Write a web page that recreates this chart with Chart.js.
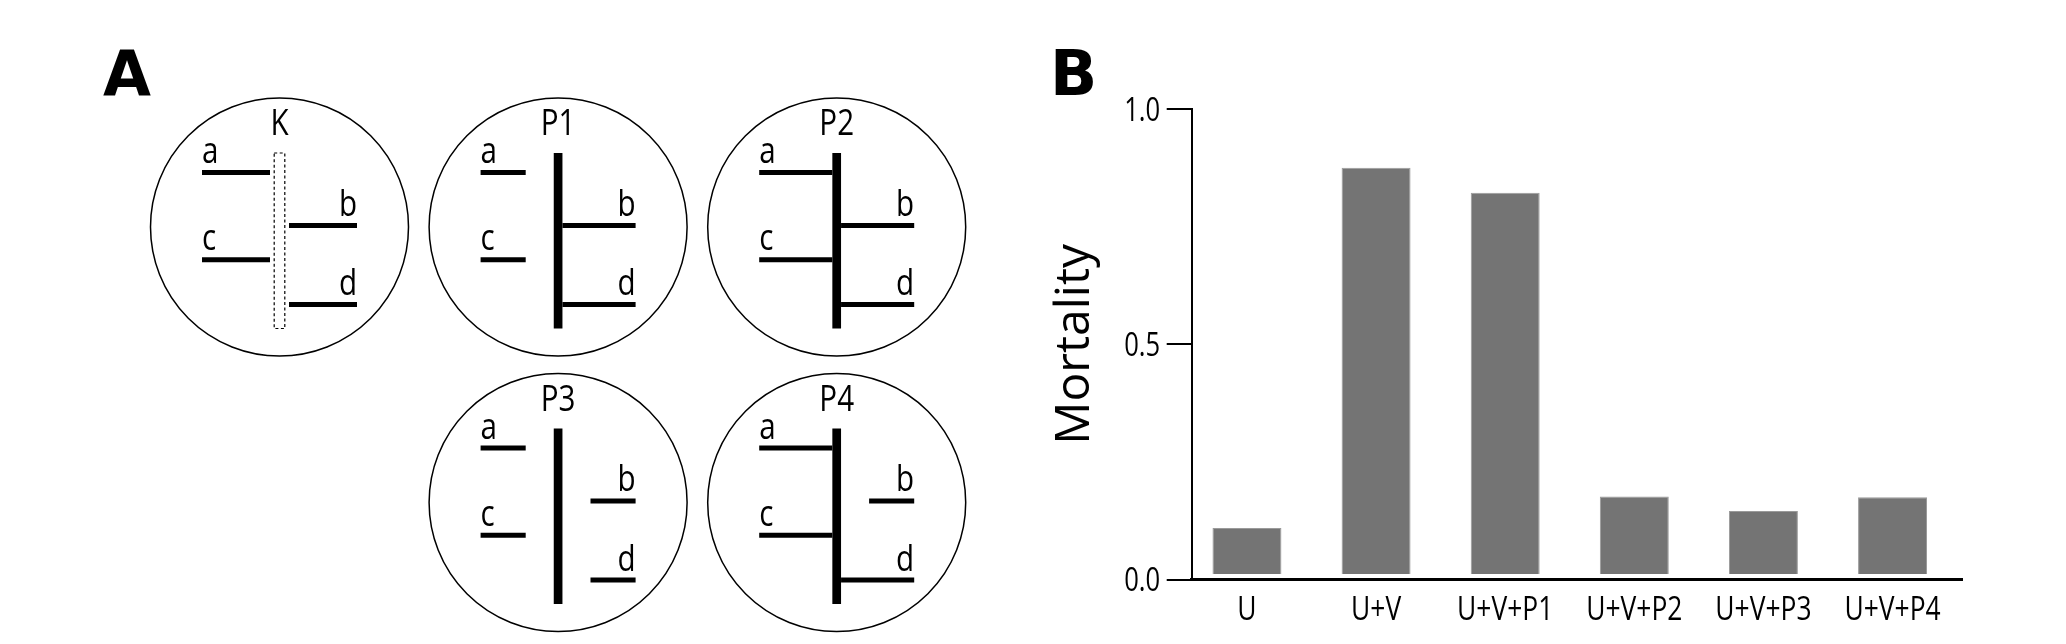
<!DOCTYPE html>
<html><head><meta charset="utf-8">
<script src="https://cdn.jsdelivr.net/npm/chart.js@4.4.1/dist/chart.umd.min.js"></script>
<style>
html,body{margin:0;padding:0;background:#fff;}
#wrap{position:relative;width:2066px;height:644px;overflow:hidden;}
#cA{position:absolute;left:0;top:0;}
#cB{position:absolute;left:1033px;top:0;}
</style></head><body>
<div id="wrap"><canvas id="cA" width="1033" height="644"></canvas><canvas id="cB" width="1033" height="644"></canvas></div>
<script>
// ---------- Panel B data ----------
const categories = ['U', 'U+V', 'U+V+P1', 'U+V+P2', 'U+V+P3', 'U+V+P4'];
const mortality = [0.11, 0.875, 0.822, 0.177, 0.146, 0.175];
const yTickValues = [0, 0.5, 1.0];
const yTickLabels = ['0.0', '0.5', '1.0'];
const yAxisTitle = 'Mortality';

// ---------- Panel A diagram data ----------
const panels = ['K', 'P1', 'P2', 'P3', 'P4'];
const panelCol = [0, 1, 2, 1, 2];
const panelRow = [0, 0, 0, 1, 1];
const barDashed = [true, false, false, false, false];
const branchNames = ['a', 'b', 'c', 'd'];
const joinedA = [1, 0, 1, 0, 1];
const joinedB = [1, 1, 1, 0, 0];
const joinedC = [1, 0, 1, 0, 1];
const joinedD = [1, 1, 1, 0, 1];

// ---------- layout / style ----------
const G = {x0: 279.5, dx: 278.6, y0: 227, dy: 275.5, r: 129, barHalf: 4.35, barTop: -74, barBot: 101.5,
  outer: 77.5, shortInner: 32.4, lw: 5, dashHalf: 5.3, dashGap: 4.2, titleDy: -92};
const branchDy = {a: -54.5, b: -1.5, c: 32.7, d: 77.5};
const branchSide = {a: -1, b: 1, c: -1, d: 1};
const labelDy = {a: -64, b: -11.5, c: 23.2, d: 68};
const joined = {a: joinedA, b: joinedB, c: joinedC, d: joinedD};
const SX = 0.8;

function drawText(ctx, text, x, y, font, align, sx) {
  ctx.save();
  ctx.font = font;
  ctx.fillStyle = '#000';
  ctx.textAlign = 'left';
  ctx.textBaseline = 'alphabetic';
  const w = ctx.measureText(text).width * sx;
  let x0 = x;
  if (align === 'center') x0 = x - w / 2;
  else if (align === 'right') x0 = x - w;
  ctx.translate(x0, y);
  ctx.scale(sx, 1);
  ctx.fillText(text, 0, 0);
  ctx.restore();
}

// ---------- Panel A (diagram) ----------
const seg = (pts, extra) => Object.assign({
  data: pts, showLine: true, pointRadius: 0, borderColor: '#000', borderWidth: G.lw,
  borderCapStyle: 'butt', fill: false, clip: false
}, extra || {});

const dsA = [];
const centers = panels.map((p, i) => ({x: G.x0 + panelCol[i] * G.dx, y: G.y0 + panelRow[i] * G.dy}));
dsA.push({data: centers, pointRadius: G.r, pointHoverRadius: G.r, pointBorderWidth: 1.5,
  pointBorderColor: '#000', pointBackgroundColor: 'rgba(0,0,0,0)', showLine: false, clip: false});
panels.forEach((p, i) => {
  const c = centers[i];
  if (barDashed[i]) {
    const h = G.dashHalf;
    dsA.push(seg([{x: c.x - h, y: c.y + G.barTop}, {x: c.x + h, y: c.y + G.barTop},
      {x: c.x + h, y: c.y + G.barBot}, {x: c.x - h, y: c.y + G.barBot}, {x: c.x - h, y: c.y + G.barTop}],
      {borderWidth: 1.2, borderDash: [3, 2.5]}));
  } else {
    dsA.push(seg([{x: c.x, y: c.y + G.barTop}, {x: c.x, y: c.y + G.barBot}], {borderWidth: G.barHalf * 2}));
  }
  branchNames.forEach(b => {
    const s = branchSide[b];
    const inner = joined[b][i] ? (barDashed[i] ? G.dashHalf + G.dashGap : G.barHalf) : G.shortInner;
    const y = c.y + branchDy[b];
    dsA.push(seg([{x: c.x + s * inner, y: y}, {x: c.x + s * G.outer, y: y}]));
  });
});

const labelsA = {
  id: 'labelsA',
  afterDatasetsDraw(chart) {
    const ctx = chart.ctx, xs = chart.scales.x, ys = chart.scales.y;
    const f = '37px "Open Sans"';
    panels.forEach((p, i) => {
      const cx = xs.getPixelForValue(centers[i].x), cy = ys.getPixelForValue(centers[i].y);
      drawText(ctx, p, cx, cy + G.titleDy, f, 'center', SX);
      branchNames.forEach(b => {
        const s = branchSide[b];
        drawText(ctx, b, cx + s * G.outer, cy + labelDy[b], f, s < 0 ? 'left' : 'right', SX);
      });
    });
    drawText(ctx, 'A', 103, 95, 'bold 62px "DejaVu Sans"', 'left', 1);
  }
};

new Chart(document.getElementById('cA'), {
  type: 'scatter',
  data: {datasets: dsA},
  options: {
    responsive: false, animation: false, events: [],
    layout: {padding: 0, autoPadding: false},
    plugins: {legend: {display: false}, tooltip: {enabled: false}},
    scales: {
      x: {type: 'linear', display: false, min: 0, max: 1033, offset: false},
      y: {type: 'linear', display: false, min: 0, max: 644, reverse: true, offset: false}
    }
  },
  plugins: [labelsA]
});

// ---------- Panel B (bar chart) ----------
const labelsB = {
  id: 'labelsB',
  afterDraw(chart) {
    const ctx = chart.ctx, xs = chart.scales.x, ys = chart.scales.y;
    yTickValues.forEach((v, i) => {
      drawText(ctx, yTickLabels[i], ys.right - 25 - 6.5, ys.getPixelForValue(v) + 11.5, '32px "Open Sans"', 'right', SX);
    });
    categories.forEach((c, i) => {
      drawText(ctx, c, xs.getPixelForValue(i), chart.chartArea.bottom + 40.3, '33px "Open Sans"', 'center', SX);
    });
    drawText(ctx, 'B', 17, 95, 'bold 62px "DejaVu Sans"', 'left', 1);
  }
};

new Chart(document.getElementById('cB'), {
  type: 'bar',
  data: {
    datasets: [{
      data: categories.map((c, i) => ({x: i, y: mortality[i]})),
      backgroundColor: '#747474', borderColor: '#9a9a9a', borderWidth: 1,
      base: 0.012, barPercentage: 0.534, categoryPercentage: 1
    }]
  },
  options: {
    responsive: false, animation: false, events: [],
    layout: {padding: {left: 0, right: 104, top: 109, bottom: 0}, autoPadding: false},
    plugins: {legend: {display: false}, tooltip: {enabled: false}},
    scales: {
      x: {
        type: 'linear', min: -0.428, max: 5.538, offset: false,
        afterBuildTicks: s => { s.ticks = categories.map((c, i) => ({value: i})); },
        afterFit: s => { s.height = 64.3; },
        ticks: {display: false},
        grid: {display: false, drawTicks: false, offset: false},
        border: {display: true, color: '#000', width: 3}
      },
      y: {
        type: 'linear', min: 0, max: 1,
        afterBuildTicks: s => { s.ticks = yTickValues.map(v => ({value: v})); },
        afterFit: s => { s.width = 158.7; },
        ticks: {display: false},
        grid: {drawOnChartArea: false, drawTicks: true, tickLength: 25, color: '#000', lineWidth: 2},
        border: {display: true, color: '#000', width: 2},
        title: {display: true, text: yAxisTitle, color: '#000',
          font: {family: 'Open Sans', size: 48}, padding: {top: 14, bottom: 0}}
      }
    }
  },
  plugins: [labelsB]
});
</script>
</body></html>
